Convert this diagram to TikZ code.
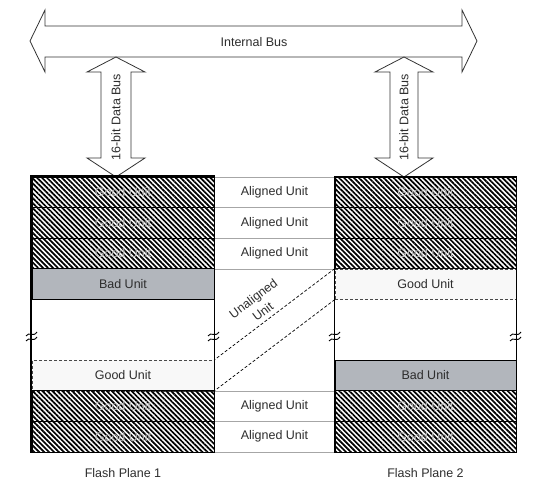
\documentclass[tikz,border=0pt]{standalone}
\usepackage{fontspec}
\setmainfont{Liberation Sans}
\usetikzlibrary{patterns.meta}
\definecolor{badgray}{RGB}{178,182,188}
\definecolor{inkgray}{RGB}{45,45,45}

\tikzset{
  unit/.style={rectangle, minimum width=182pt, minimum height=30.6pt, inner sep=0pt, font=\fontsize{12.5}{14}\selectfont},
  hatched/.style={unit, draw=black, line width=0.8pt, pattern={Lines[angle=-45,distance=3.5pt,line width=1.7pt]}, text=gray!55},
  badunit/.style={unit, draw=black, line width=0.8pt, fill=badgray, text=inkgray},
  dotunit/.style={unit, draw=black!75, densely dashed, fill=white, postaction={pattern={Dots[distance=2pt,radius=0.45pt]}, pattern color=gray!65}, text=inkgray},
  aligned/.style={unit, minimum width=121pt, draw=gray!70, line width=0.5pt, text=inkgray},
  busarrow/.style={draw=black!80, line width=0.8pt, fill=white},
  bustext/.style={font=\fontsize{12.5}{14}\selectfont, text=inkgray, inner sep=1pt},
  plane/.style={draw=black, line width=1.6pt},
  dashln/.style={draw=black, densely dashed, line width=0.7pt},
  brk/.style={draw=black, line width=0.9pt},
}

\begin{document}
\begin{tikzpicture}[x=1pt,y=-1pt]
 \useasboundingbox (0,0) rectangle (550,502);
 % internal bus
 \draw[busarrow] (30,41)--(45,10)--(45,26)--(462,26)--(462,10)--(477,41)--(462,72)--(462,57)--(45,57)--(45,72)--cycle;
 \node[bustext] (ibus) at (254,42) {Internal Bus};
 % data buses
 \draw[busarrow] (116,57)--(145,72)--(131,72)--(131,158)--(145,158)--(116,177)--(87,158)--(101,158)--(101,72)--(87,72)--cycle;
 \draw[busarrow] (404,57)--(433,72)--(418,72)--(418,158)--(433,158)--(404,177)--(375,158)--(390,158)--(390,72)--(375,72)--cycle;
 \node[bustext,rotate=90] (dbus1) at (116,117) {16-bit Data Bus};
 \node[bustext,rotate=90] (dbus2) at (404,117) {16-bit Data Bus};

 % flash plane 1
 \node[hatched] (p1a) at (123,192.3) {Good Unit};
 \node[hatched] (p1b) at (123,222.9) {Good Unit};
 \node[hatched] (p1c) at (123,253.5) {Good Unit};
 \node[badunit] (p1bad) at (123,284.1) {Bad Unit};
 \node[dotunit] (p1good) at (123,375.5) {Good Unit};
 \node[hatched] (p1f) at (123,406.1) {Good Unit};
 \node[hatched] (p1g) at (123,436.7) {Good Unit};

 % middle column
 \node[aligned] (al1) at (274.5,192.3) {Aligned Unit};
 \node[aligned] (al2) at (274.5,222.9) {Aligned Unit};
 \node[aligned] (al3) at (274.5,253.5) {Aligned Unit};
 \node[aligned] (al4) at (274.5,406.1) {Aligned Unit};
 \node[aligned] (al5) at (274.5,436.7) {Aligned Unit};

 % flash plane 2
 \node[hatched,minimum width=181pt] (p2a) at (425.5,192.3) {Good Unit};
 \node[hatched,minimum width=181pt] (p2b) at (425.5,222.9) {Good Unit};
 \node[hatched,minimum width=181pt] (p2c) at (425.5,253.5) {Good Unit};
 \node[dotunit,minimum width=181pt] (p2good) at (425.5,284.1) {Good Unit};
 \node[badunit,minimum width=181pt] (p2bad) at (425.5,375.5) {Bad Unit};
 \node[hatched,minimum width=181pt] (p2f) at (425.5,406.1) {Good Unit};
 \node[hatched,minimum width=181pt] (p2g) at (425.5,436.7) {Good Unit};

 % plane outlines
 \draw[plane] (p1a.north west) rectangle (p1g.south east);
 \draw[plane] (p2a.north west) rectangle (p2g.south east);

 % unaligned unit
 \draw[dashln] (p2good.north west) -- (p1good.north east);
 \draw[dashln] (p2good.south west) -- (p1good.south east);
 \node[bustext,rotate=37,align=center,font=\fontsize{12.5}{16}\selectfont] (unal) at (258,305) {Unaligned\\Unit};

 % breaks
 \draw[brk] (26,336) .. controls (29,331) and (33,338) .. (37,332) (26,341) .. controls (29,336) and (33,343) .. (37,337);
 \draw[brk] (208,336) .. controls (211,331) and (215,338) .. (219,332) (208,341) .. controls (211,336) and (215,343) .. (219,337);
 \draw[brk] (329,336) .. controls (332,331) and (336,338) .. (340,332) (329,341) .. controls (332,336) and (336,343) .. (340,337);
 \draw[brk] (510,336) .. controls (513,331) and (517,338) .. (521,332) (510,341) .. controls (513,336) and (517,343) .. (521,337);

 % captions
 \node[bustext] (fp1) at (123,473) {Flash Plane 1};
 \node[bustext] (fp2) at (425.5,473) {Flash Plane 2};
\end{tikzpicture}
\end{document}
